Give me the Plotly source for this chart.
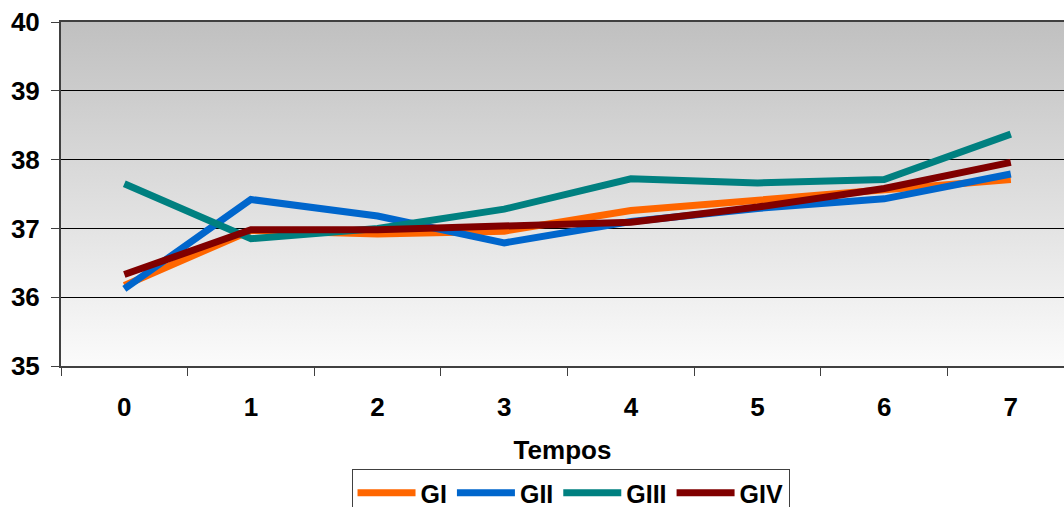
import base64
import plotly.graph_objects as go

tempos = ["0", "1", "2", "3", "4", "5", "6", "7"]
gi = [36.17, 36.97, 36.92, 36.96, 37.26, 37.41, 37.58, 37.71]
gii = [36.12, 37.42, 37.18, 36.79, 37.10, 37.29, 37.43, 37.79]
giii = [37.65, 36.85, 37.00, 37.28, 37.72, 37.66, 37.71, 38.37]
giv = [36.33, 36.98, 36.98, 37.03, 37.09, 37.31, 37.58, 37.96]

names = ["GI", "GII", "GIII", "GIV"]
colors = ["#FF6600", "#0066CC", "#008080", "#800000"]
series = [gi, gii, giii, giv]

svg = ('<svg xmlns="http://www.w3.org/2000/svg" width="100" height="100" preserveAspectRatio="none">'
       '<defs><linearGradient id="g" x1="0" y1="0" x2="0" y2="1">'
       '<stop offset="0" stop-color="#c0c0c0"/><stop offset="1" stop-color="#fbfbfb"/>'
       '</linearGradient></defs><rect width="100" height="100" fill="url(#g)"/></svg>')
src = "data:image/svg+xml;base64," + base64.b64encode(svg.encode()).decode()

fig = go.Figure()
for n, c, s in zip(names, colors, series):
    fig.add_trace(go.Scatter(x=tempos, y=s, name=n, mode="lines",
                             line=dict(color=c, width=7)))

font = "Liberation Sans, Arial, sans-serif"
fig.update_layout(
    width=1064, height=507,
    margin=dict(l=61, r=0, t=22, b=141),
    paper_bgcolor="white",
    plot_bgcolor="rgba(0,0,0,0)",
    font=dict(family=font, size=26, color="black"),
    showlegend=True,
    legend=dict(orientation="h", x=0.508, xanchor="center",
                yref="container", y=(507 - 469) / 507, yanchor="top",
                bordercolor="#404040", borderwidth=1, bgcolor="white",
                font=dict(size=25, family=font, weight="bold"),
                itemwidth=58, tracegroupgap=0),
    images=[dict(source=src, xref="paper", yref="paper", x=0, y=1, sizex=1, sizey=1,
                 sizing="stretch", layer="below", xanchor="left", yanchor="top")],
    xaxis=dict(type="category", range=[-0.5, 7.42], tickson="boundaries",
               ticks="outside", ticklen=8, tickcolor="#404040", tickwidth=1,
               showline=True, linecolor="#404040", linewidth=2, mirror=True,
               showgrid=False, ticklabelstandoff=17,
               tickfont=dict(size=26, family=font, weight="bold"),
               title=dict(text="Tempos", standoff=20,
                          font=dict(size=26, family=font, weight="bold"))),
    yaxis=dict(range=[35, 40], dtick=1, ticks="outside", ticklen=8,
               tickcolor="#404040", showline=True, linecolor="#404040", linewidth=2,
               showgrid=True, gridcolor="black", gridwidth=1, zeroline=False,
               ticklabelstandoff=6,
               tickfont=dict(size=26, family=font, weight="bold")),
)
fig.write_html("out.html")
